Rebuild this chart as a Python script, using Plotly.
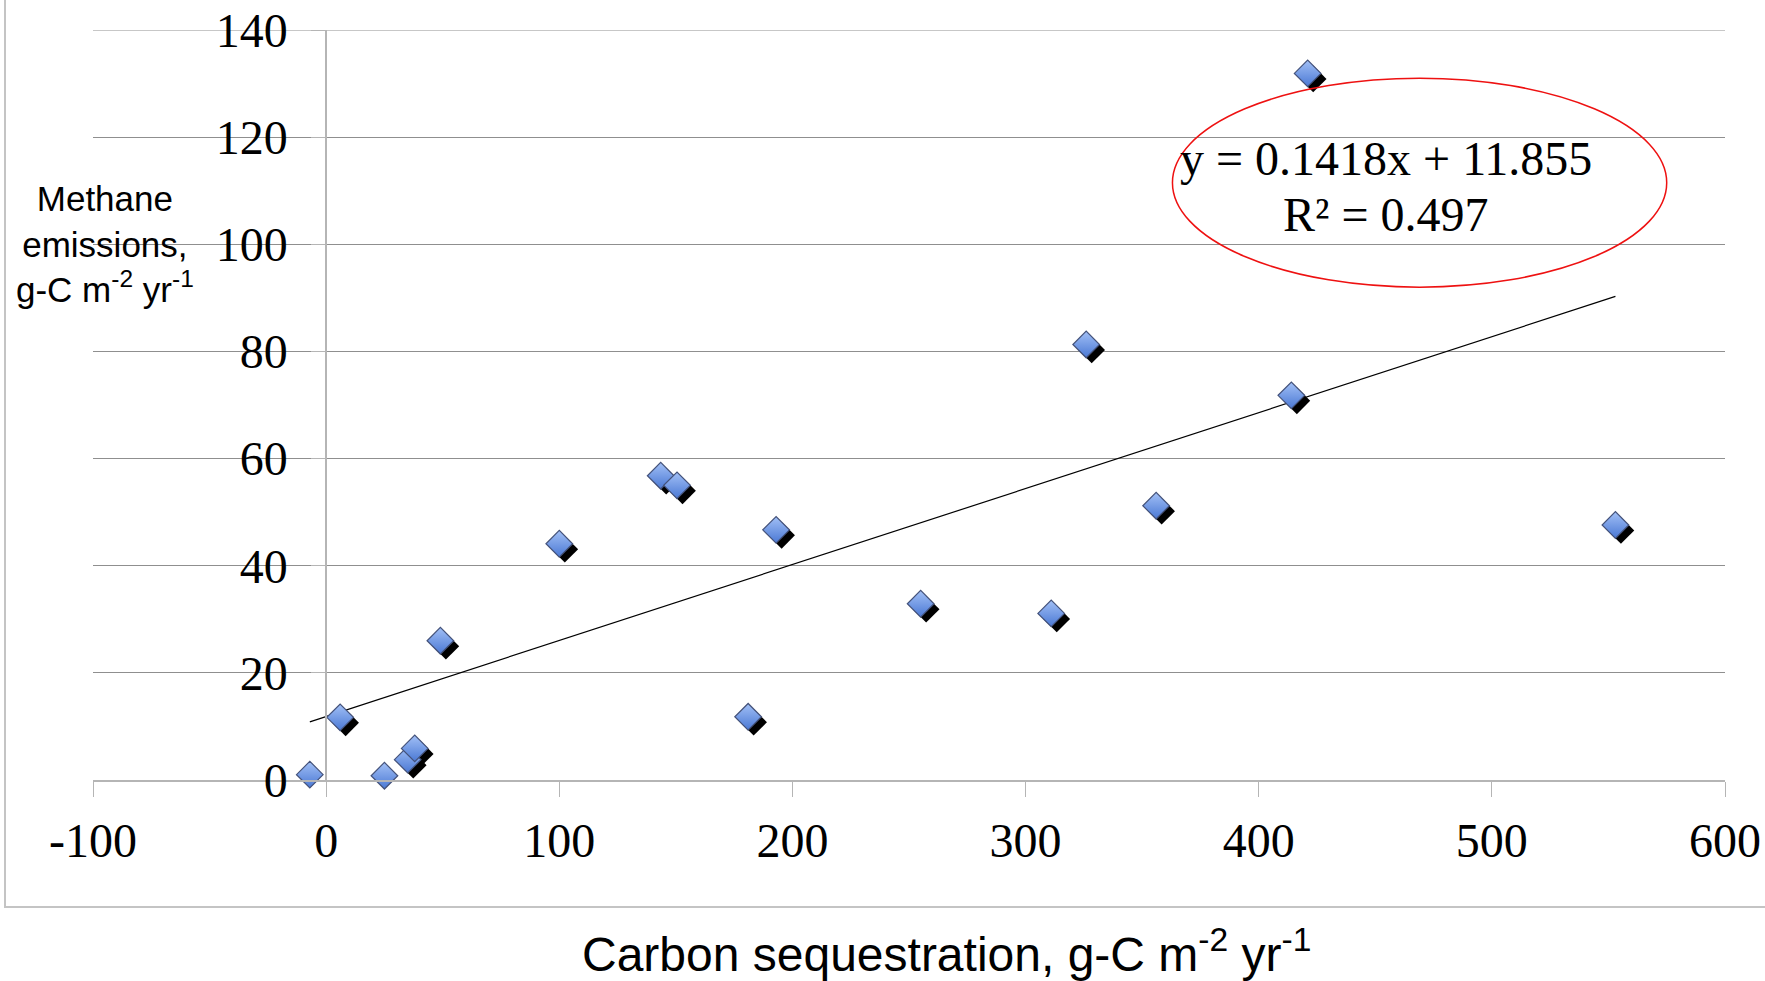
import numpy as np
import plotly.graph_objects as go

# ---- data ----
carbon_sequestration = [-7, 6, 25, 35, 38, 49, 100, 143.5, 150.5, 181, 193, 255, 311, 326, 356, 414, 421, 553]
methane_emissions = [1.0, 11.7, 0.8, 3.8, 5.9, 26.0, 44.1, 56.8, 55.0, 11.8, 46.7, 32.9, 31.1, 81.3, 51.2, 71.8, 131.9, 47.6]
trend_slope = 0.1418
trend_intercept = 11.855
r_squared = 0.497
x_tick_values = [-100, 0, 100, 200, 300, 400, 500, 600]
y_tick_values = [0, 20, 40, 60, 80, 100, 120, 140]

# ---- layout geometry ----
W, H = 1765, 981
ML, MR, MT, MB = 93, 40, 30, 201
X_RANGE = [-100, 600]
Y_RANGE = [0, 140]
pw, ph = W - ML - MR, H - MT - MB
px_per_x = pw / (X_RANGE[1] - X_RANGE[0])
px_per_y = ph / (Y_RANGE[1] - Y_RANGE[0])

SERIF = "Liberation Serif, Times New Roman, serif"
SANS = "Liberation Sans, Arial, sans-serif"
GRID = "#8f8f8f"
AXIS = "#b5b5b5"

x = np.array(carbon_sequestration, dtype=float)
y = np.array(methane_emissions, dtype=float)

# shadow offset (in pixels) converted through the axis scales
shadow_dx = 5.5 / px_per_x
shadow_dy = 5.5 / px_per_y

fig = go.Figure()

# trend line
x_line = np.array([x.min(), x.max()])
fig.add_trace(go.Scatter(
    x=x_line, y=trend_slope * x_line + trend_intercept,
    mode="lines", line=dict(color="black", width=1.2),
    hoverinfo="skip", showlegend=False))

# marker shadows
fig.add_trace(go.Scatter(
    x=x + shadow_dx, y=y - shadow_dy, mode="markers",
    marker=dict(symbol="diamond", size=20.5, color="black", line=dict(width=0)),
    hoverinfo="skip", showlegend=False, cliponaxis=False))

# markers
fig.add_trace(go.Scatter(
    x=x, y=y, mode="markers",
    marker=dict(symbol="diamond", size=20.5, color="#a2c0f6",
                gradient=dict(type="vertical", color="#4a78d4"),
                line=dict(color="#44527a", width=1.2)),
    showlegend=False, cliponaxis=False))

fig.update_layout(
    width=W, height=H,
    margin=dict(l=ML, r=MR, t=MT, b=MB, autoexpand=False),
    paper_bgcolor="white", plot_bgcolor="white",
    showlegend=False,
    xaxis=dict(
        range=X_RANGE, tickvals=x_tick_values, ticktext=[str(v) for v in x_tick_values],
        automargin=False,
        showgrid=False, zeroline=False,
        showline=True, linecolor=AXIS, linewidth=2,
        ticks="outside", ticklen=15, tickwidth=1.2, tickcolor=AXIS,
        tickfont=dict(family=SERIF, size=48, color="black"),
        ticklabelstandoff=2,
    ),
    yaxis=dict(
        range=Y_RANGE, tickvals=y_tick_values, ticktext=[str(v) for v in y_tick_values],
        automargin=False,
        anchor="free", position=(0 - X_RANGE[0]) / (X_RANGE[1] - X_RANGE[0]),
        showgrid=True, gridcolor=GRID, gridwidth=1.2,
        zeroline=False,
        showline=True, linecolor=AXIS, linewidth=1.5,
        ticks="outside", ticklen=14, tickwidth=1.2, tickcolor=AXIS,
        tickfont=dict(family=SERIF, size=48, color="black"),
        ticklabelstandoff=14,
    ),
)

# top gridline (at the upper end of the axis range)
fig.add_shape(type="line", xref="paper", yref="y",
              x0=0, x1=1, y0=max(y_tick_values), y1=max(y_tick_values),
              line=dict(color=GRID, width=1.2), layer="below")

# outer chart border (only left and bottom edges visible in frame)
fig.add_shape(type="rect", xref="paper", yref="paper",
              x0=(5 - ML) / pw, x1=1.2, y0=1 - (907 - MT) / ph, y1=1.2,
              line=dict(color="#c4c4c4", width=2), fillcolor="rgba(0,0,0,0)", layer="below")

# red ellipse highlighting the equation
fig.add_shape(type="circle", xref="x", yref="y",
              x0=363, x1=575, y0=92, y1=131,
              line=dict(color="#ee1111", width=1.5))

# equation text
fig.add_annotation(x=454.5, y=116.0, xref="x", yref="y",
                   text=f"y = {trend_slope}x + {trend_intercept}",
                   showarrow=False, xanchor="center", yanchor="middle",
                   font=dict(family=SERIF, size=48, color="black"))
fig.add_annotation(x=454.5, y=105.6, xref="x", yref="y",
                   text=f"R² = {r_squared}",
                   showarrow=False, xanchor="center", yanchor="middle",
                   font=dict(family=SERIF, size=48, color="black"))

# axis titles
fig.add_annotation(xref="paper", yref="paper",
                   x=(105 - ML) / pw, y=1 - (244 - MT) / ph,
                   text="Methane<br>emissions,<br>g-C m<sup>-2</sup> yr<sup>-1</sup>",
                   showarrow=False, xanchor="center", yanchor="middle", align="center",
                   font=dict(family=SANS, size=35, color="black"))
fig.add_annotation(xref="paper", yref="paper",
                   x=(946 - ML) / pw, y=1 - (951 - MT) / ph,
                   text="Carbon sequestration, g-C m<sup>-2</sup> yr<sup>-1</sup>",
                   showarrow=False, xanchor="center", yanchor="middle",
                   font=dict(family=SANS, size=48, color="black"))

fig.write_html("out.html",
               config={"displayModeBar": False},
               post_script="document.body.style.margin='0';document.body.style.overflow='hidden';")
